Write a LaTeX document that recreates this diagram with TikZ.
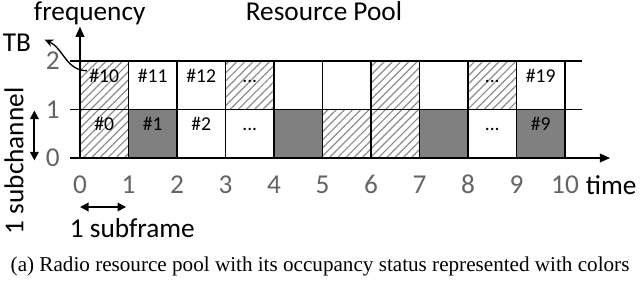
\documentclass[tikz,border=0pt]{standalone}
\usepackage{fontspec}
\setmainfont{Carlito}
\newfontfamily\capfont{Liberation Serif}
\usepackage{tikz}
\usetikzlibrary{arrows.meta,patterns.meta,positioning}
\definecolor{darkcell}{RGB}{128,128,128}
\definecolor{ticktext}{RGB}{100,100,100}
\tikzset{
    hatchcell/.style={
        line width=1pt,
        pattern={Lines[angle=45,distance=3.4pt,line width=0.7pt]},
        pattern color=gray!90
    },
    % dark occupied cells
    graycell/.style={
        line width=1pt,
        fill=darkcell
    },
    whitecell/.style={
        line width=1pt,
        fill=white
    },
    celllabel/.style={
        anchor=base,
        font=\fontsize{11.5}{13}\selectfont
    },
    ticklabel/.style={
        ticktext,
        font=\fontsize{16}{18}\selectfont
    },
    axislabel/.style={
        black,
        font=\fontsize{16}{18}\selectfont
    },
    axisarrow/.style={
        line width=1.1pt,
        ->,
        >={Triangle[length=6pt, width=5pt]}
    },
    dblarrow/.style={
        line width=1.1pt,
        <->,
        >={Triangle[length=5pt, width=5pt]}
    }
}
\begin{document}
\begin{tikzpicture}
    \useasboundingbox (-1.649,-2.557) rectangle (11.546,3.258);

    % row 0
    \draw[hatchcell] (0,0) rectangle (1,1);
    \draw[graycell]  (1,0) rectangle (2,1);
    \draw[whitecell] (2,0) rectangle (3,1);
    \draw[whitecell] (3,0) rectangle (4,1);
    \draw[graycell]  (4,0) rectangle (5,1);
    \draw[hatchcell] (5,0) rectangle (6,1);
    \draw[hatchcell] (6,0) rectangle (7,1);
    \draw[graycell]  (7,0) rectangle (8,1);
    \draw[whitecell] (8,0) rectangle (9,1);
    \draw[graycell]  (9,0) rectangle (10,1);
    % row 1
    \draw[hatchcell] (0,1) rectangle (1,2);
    \draw[whitecell] (1,1) rectangle (2,2);
    \draw[whitecell] (2,1) rectangle (3,2);
    \draw[hatchcell] (3,1) rectangle (4,2);
    \draw[whitecell] (4,1) rectangle (5,2);
    \draw[whitecell] (5,1) rectangle (6,2);
    \draw[hatchcell] (6,1) rectangle (7,2);
    \draw[whitecell] (7,1) rectangle (8,2);
    \draw[hatchcell] (8,1) rectangle (9,2);
    \draw[whitecell] (9,1) rectangle (10,2);

    \draw[line width=1.1pt] (-0.2,1) -- (10.35,1);
    \draw[line width=1.1pt] (-0.2,2) -- (10.35,2);

    \coordinate (xs) at (-0.2,0);
    \coordinate (xe) at (10.93,0);
    \coordinate (ys) at (0,0);
    \coordinate (ye) at (0,2.71);
    \draw[axisarrow] (xs) -- (xe);
    \draw[axisarrow] (ys) -- (ye);

    \node[celllabel] (l0)  at (0.5,0.56) {\#0};
    \node[celllabel] (l1)  at (1.5,0.56) {\#1};
    \node[celllabel] (l2)  at (2.5,0.56) {\#2};
    \node[celllabel] (l3)  at (3.5,0.56) {...};
    \node[celllabel] (l8)  at (8.5,0.56) {...};
    \node[celllabel] (l9)  at (9.5,0.56) {\#9};
    \node[celllabel] (l10) at (0.5,1.56) {\#10};
    \node[celllabel] (l11) at (1.5,1.56) {\#11};
    \node[celllabel] (l12) at (2.5,1.56) {\#12};
    \node[celllabel] (l13) at (3.5,1.56) {...};
    \node[celllabel] (l18) at (8.5,1.56) {...};
    \node[celllabel] (l19) at (9.5,1.56) {\#19};

    \foreach \i in {0,...,10}
        \node[ticklabel] (tx\i) at (\i,-0.55) {\i};
    \foreach \j in {0,1,2}
        \node[ticklabel] (ty\j) at (-0.56,\j) {\j};

    \node[axislabel] (time) at (10.95,-0.55) {time};
    \node[axislabel, anchor=base, inner sep=0pt] (freq) at (0.2,2.83) {frequency};
    \node[axislabel, anchor=base] (pool) at (5.03,2.84) {Resource Pool};
    \node[axislabel] (tb) at (-1.30,2.37) {TB};
    \node[axislabel, rotate=90] (subch) at (-1.36,-0.06) {1 subchannel};
    \node[axislabel] (subfr) at (1.08,-1.44) {1 subframe};

    \coordinate (ca) at (-0.94,-0.05);
    \coordinate (cb) at (-0.94,0.98);
    \draw[dblarrow] (ca) -- (cb);
    \coordinate (fa) at (0,-1.01);
    \coordinate (fb) at (0.95,-1.01);
    \draw[dblarrow] (fa) -- (fb);

    \draw[line width=0.8pt, ->, >={Stealth[length=5pt, width=4.5pt]}]
        ([xshift=2pt,yshift=3pt]l10.west) to[out=180, in=-25] ([xshift=4.5pt,yshift=2pt]tb.east);

    \node[font=\capfont\fontsize{12.4}{14}\selectfont] (cap) at (4.95,-2.24)
        {(a) Radio resource pool with its occupancy status represented with colors};
\end{tikzpicture}
\end{document}
